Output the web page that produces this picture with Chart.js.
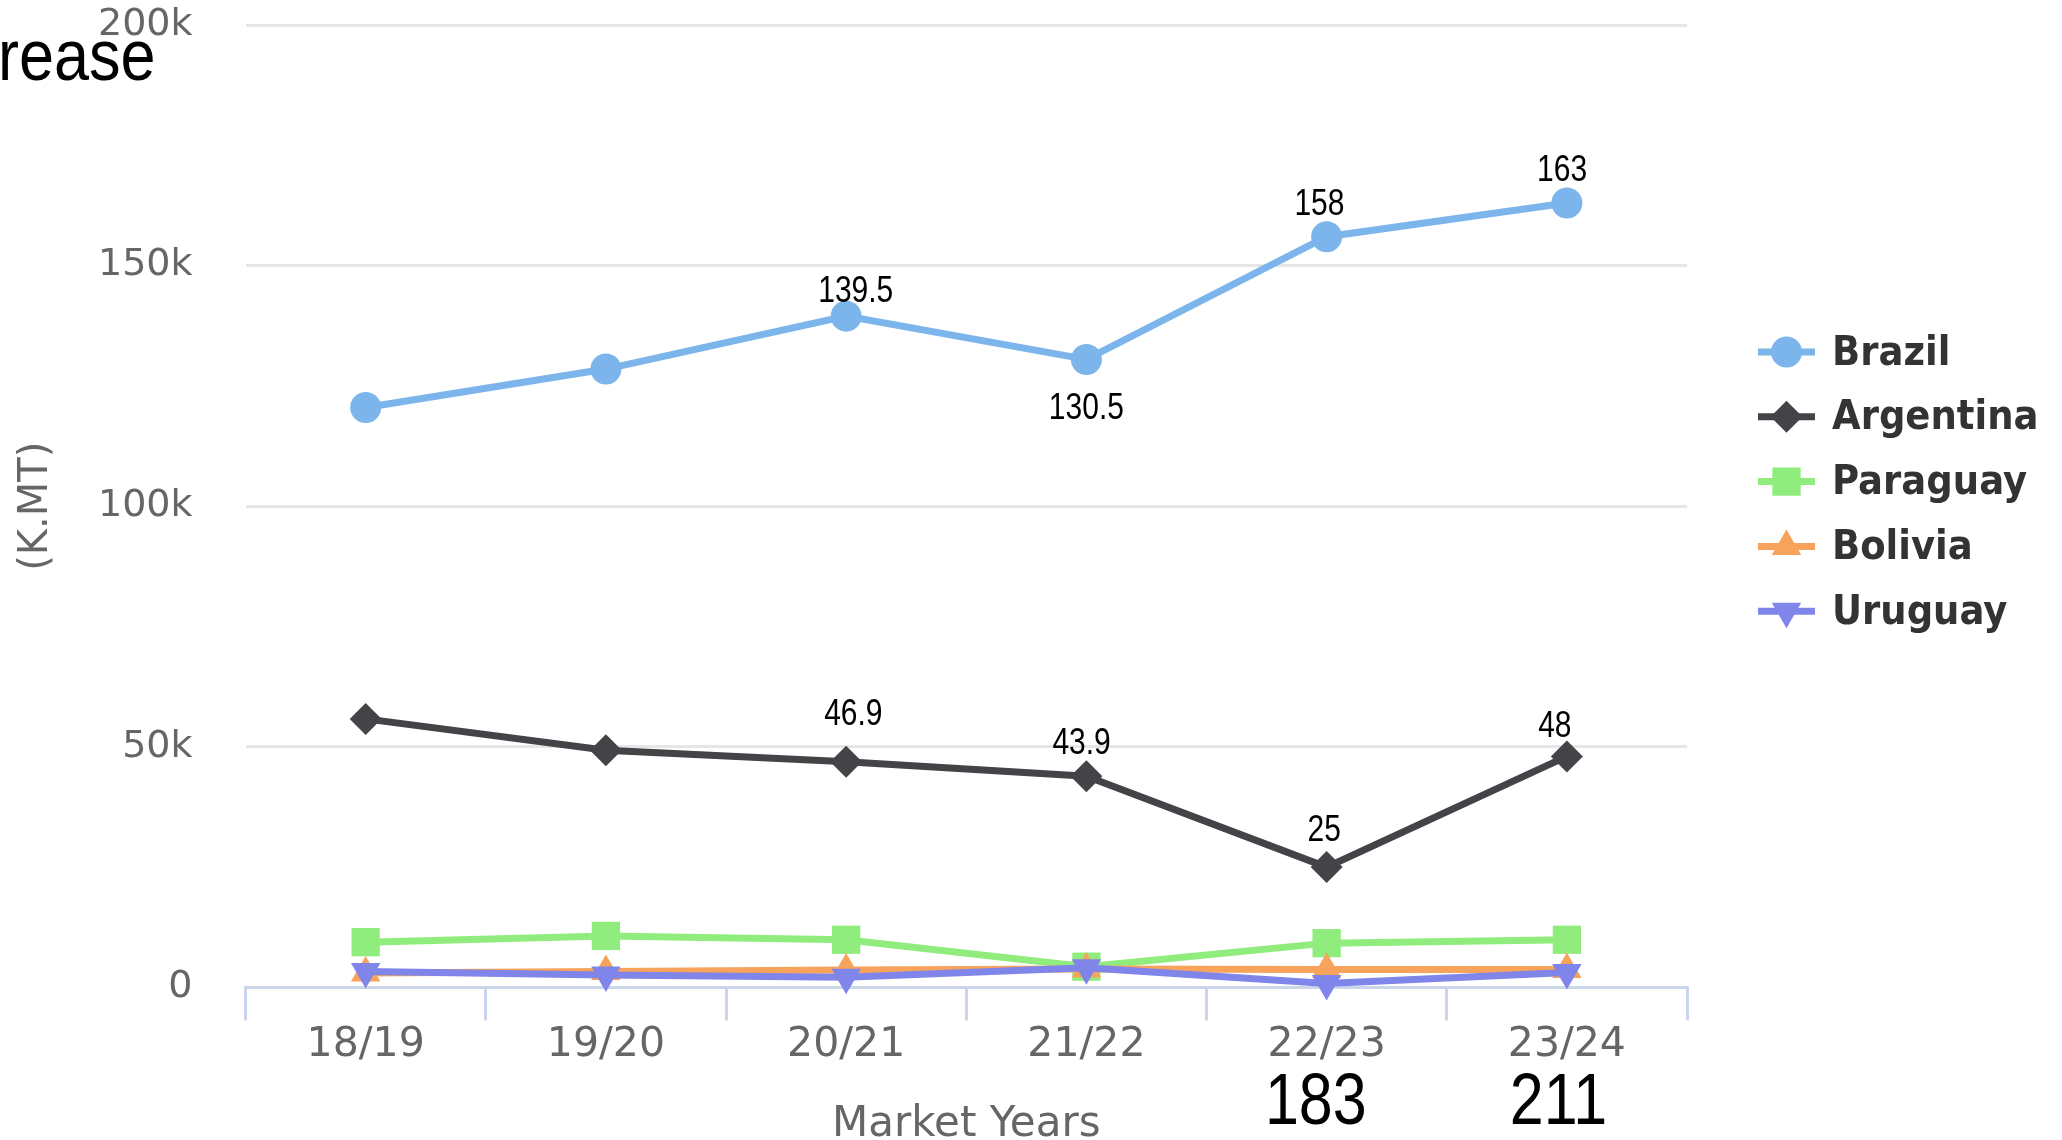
<!DOCTYPE html>
<html><head><meta charset="utf-8">
<script src="https://cdn.jsdelivr.net/npm/chart.js@4.4.1/dist/chart.umd.min.js"></script>
<style>
html,body{margin:0;padding:0;overflow:hidden;background:#fff;width:2062px;height:1140px}
#wrap{position:absolute;left:0;top:0;width:2062px;height:1170px}
</style>
</head><body><div id="wrap"><canvas id="c"></canvas></div>
<script>
const categories = ['18/19', '19/20', '20/21', '21/22', '22/23', '23/24'];
const seriesNames = ['Brazil', 'Argentina', 'Paraguay', 'Bolivia', 'Uruguay'];
const brazil    = [120500, 128500, 139500, 130500, 156000, 163000];
const argentina = [55800, 49300, 46900, 43900, 25000, 48000];
const paraguay  = [9400, 10700, 9900, 4300, 9200, 9900];
const bolivia   = [3000, 3300, 3600, 3800, 3700, 3700];
const uruguay   = [3300, 2600, 2100, 4100, 800, 3100];
const yTickValues = [0, 50000, 100000, 150000, 200000];
const yAxisTitle = '(K.MT)';
const xAxisTitle = 'Market Years';
// value annotations: text, category position, value position
const labelTexts  = ['139.5', '130.5', '158', '163', '46.9', '43.9', '25', '48'];
const labelCatPos = [2.04, 3.0, 3.97, 4.98, 2.03, 2.98, 3.99, 4.95];
const labelValPos = [144500, 120200, 162600, 169600, 56500, 50500, 32400, 54100];
// large overlay numbers under the axis
const bottomTexts  = ['183', '211'];
const bottomCatPos = [3.955, 4.965];
const cornerText = 'rease';

const colors = ['#7cb5ec', '#434348', '#90ed7d', '#f7a35c', '#8085e9'];
const styles = [
  {pointStyle: 'circle', radius: 15.5, rotation: 0},
  {pointStyle: 'rectRot', radius: 16, rotation: 0},
  {pointStyle: 'rect', radius: 20, rotation: 0},
  {pointStyle: 'triangle', radius: 17, rotation: 0},
  {pointStyle: 'triangle', radius: 17, rotation: 180}
];
const values = [brazil, argentina, paraguay, bolivia, uruguay];

const datasets = seriesNames.map((n, i) => ({
  label: n,
  data: values[i],
  borderColor: colors[i],
  backgroundColor: colors[i],
  pointBackgroundColor: colors[i],
  pointBorderColor: colors[i],
  pointBorderWidth: 0,
  borderWidth: 7,
  pointStyle: styles[i].pointStyle,
  pointRadius: styles[i].radius,
  pointRotation: styles[i].rotation,
  tension: 0,
  clip: false,
  order: 5 - i
}));

function tallText(ctx, t, x, y, sy) {
  ctx.save();
  ctx.translate(x, y);
  ctx.scale(1, sy);
  ctx.fillText(t, 0, 0);
  ctx.restore();
}

const overlay = {
  id: 'overlay',
  afterDraw(chart) {
    const ctx = chart.ctx;
    const xs = chart.scales.x, ys = chart.scales.y;
    ctx.save();
    ctx.fillStyle = '#000';
    ctx.font = '30px "Liberation Sans", Arial, sans-serif';
    ctx.textAlign = 'center';
    ctx.textBaseline = 'middle';
    labelTexts.forEach((t, i) => {
      tallText(ctx, t, xs.getPixelForValue(labelCatPos[i]), ys.getPixelForValue(labelValPos[i]), 1.2);
    });
    ctx.font = '61px "Liberation Sans", Arial, sans-serif';
    bottomTexts.forEach((t, i) => {
      tallText(ctx, t, xs.getPixelForValue(bottomCatPos[i]), 1104, 1.17);
    });
    ctx.textAlign = 'left';
    ctx.textBaseline = 'alphabetic';
    ctx.font = '63px "Liberation Sans", Arial, sans-serif';
    tallText(ctx, cornerText, -2, 80, 1.15);
    // legend
    const lx = 1758, lw = 57, tx = 1832, y0 = 352, dy = 64.8;
    ctx.font = 'bold 37px "DejaVu Sans", sans-serif';
    ctx.textBaseline = 'middle';
    seriesNames.forEach((n, i) => {
      const y = y0 + i * dy;
      ctx.strokeStyle = colors[i];
      ctx.lineWidth = 7;
      ctx.beginPath(); ctx.moveTo(lx, y); ctx.lineTo(lx + lw, y); ctx.stroke();
      ctx.fillStyle = colors[i];
      Chart.helpers.drawPoint(ctx, {pointStyle: styles[i].pointStyle, radius: styles[i].radius, rotation: styles[i].rotation, borderWidth: 0}, lx + lw / 2, y);
      ctx.fillStyle = '#333';
      tallText(ctx, n, tx, y + 2, 1.1);
    });
    ctx.restore();
  }
};

new Chart(document.getElementById('c'), {
  type: 'line',
  data: {labels: categories, datasets},
  plugins: [overlay],
  options: {
    responsive: true,
    maintainAspectRatio: false,
    devicePixelRatio: 1,
    animation: false,
    layout: {padding: {top: 25, right: 375, bottom: 20, left: 0}},
    plugins: {legend: {display: false}, tooltip: {enabled: false}, title: {display: false}},
    scales: {
      x: {
        type: 'category',
        offset: true,
        grid: {offset: true, drawOnChartArea: false, drawTicks: true, tickLength: 33, color: '#ccd6eb', lineWidth: 3},
        border: {display: true, color: '#ccd6eb', width: 3},
        ticks: {color: '#666', font: {family: 'DejaVu Sans', size: 41}, padding: 0, maxRotation: 0},
        title: {display: true, text: xAxisTitle, color: '#666', font: {family: 'DejaVu Sans', size: 42}, padding: {top: 30, bottom: 0}}
      },
      y: {
        min: 0, max: 200000,
        afterBuildTicks: s => { s.ticks = yTickValues.map(v => ({value: v})); },
        grid: {color: '#e6e6e6', lineWidth: 3, drawTicks: true, tickLength: 53, tickColor: 'rgba(0,0,0,0)'},
        border: {display: false},
        ticks: {color: '#666', font: {family: 'DejaVu Sans', size: 38}, padding: 0, callback: v => v === 0 ? '0' : (v / 1000) + 'k'},
        title: {display: true, text: yAxisTitle, color: '#666', font: {family: 'DejaVu Sans', size: 40}, padding: {top: 13, bottom: 37}}
      }
    }
  }
});
</script>
</body></html>
